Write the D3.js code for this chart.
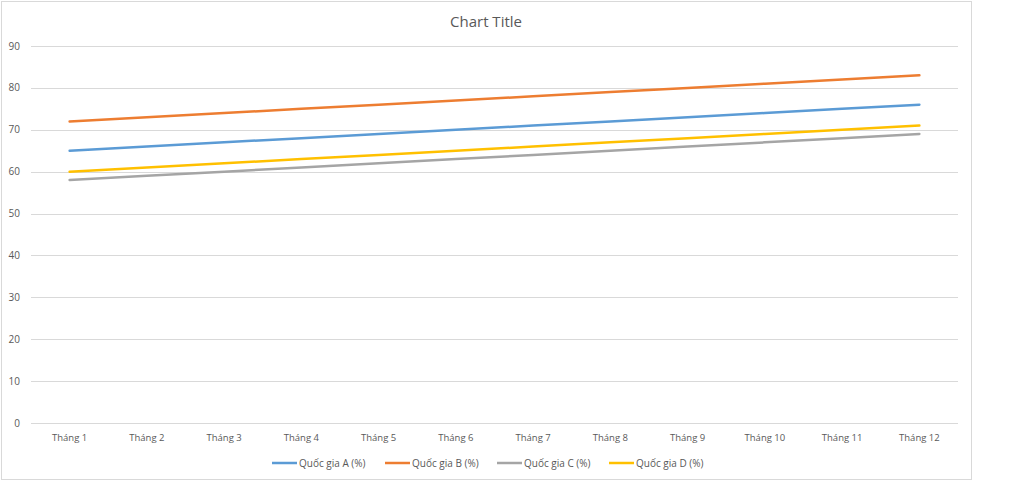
<!DOCTYPE html>
<html>
<head>
<meta charset="utf-8">
<script src="https://cdn.jsdelivr.net/npm/d3@7"></script>
<style>
  body { margin: 0; background: #fff; }
  text { font-family: "Open Sans", "Liberation Sans", sans-serif; }
</style>
</head>
<body>
<script>
// data
var months = ["Tháng 1", "Tháng 2", "Tháng 3", "Tháng 4", "Tháng 5", "Tháng 6",
              "Tháng 7", "Tháng 8", "Tháng 9", "Tháng 10", "Tháng 11", "Tháng 12"];
var seriesNames = ["Quốc gia A (%)", "Quốc gia B (%)", "Quốc gia C (%)", "Quốc gia D (%)"];
var quocGiaA = [65, 66, 67, 68, 69, 70, 71, 72, 73, 74, 75, 76];
var quocGiaB = [72, 73, 74, 75, 76, 77, 78, 79, 80, 81, 82, 83];
var quocGiaC = [58, 59, 60, 61, 62, 63, 64, 65, 66, 67, 68, 69];
var quocGiaD = [60, 61, 62, 63, 64, 65, 66, 67, 68, 69, 70, 71];
var yTicks = [0, 10, 20, 30, 40, 50, 60, 70, 80, 90];

var colors = ["#5B9BD5", "#ED7D31", "#A5A5A5", "#FFC000"];
var allSeries = [quocGiaA, quocGiaB, quocGiaC, quocGiaD];

var width = 1024,
    height = 488;

var svg = d3.select("body").append("svg")
    .attr("width", width)
    .attr("height", height);

// chart frame
svg.append("rect")
    .attr("x", 1.5).attr("y", 1.5)
    .attr("width", 970).attr("height", 478)
    .attr("fill", "#fff")
    .attr("stroke", "#d9d9d9");

svg.append("text")
    .attr("x", 486).attr("y", 27)
    .attr("text-anchor", "middle")
    .attr("font-size", "15px")
    .attr("fill", "#595959")
    .text("Chart Title");

var x = d3.scaleBand()
    .domain(months)
    .range([31, 958]);

var y = d3.scaleLinear()
    .domain([0, 90])
    .range([423, 46]);

// gridlines
svg.append("g").selectAll("line")
    .data(yTicks)
    .enter().append("line")
    .attr("x1", 31).attr("x2", 958)
    .attr("y1", function (d) { return Math.round(y(d)) + 0.5; })
    .attr("y2", function (d) { return Math.round(y(d)) + 0.5; })
    .attr("stroke", "#d9d9d9")
    .attr("stroke-width", 1);

// y labels
svg.append("g").selectAll("text")
    .data(yTicks)
    .enter().append("text")
    .attr("x", 20)
    .attr("y", function (d) { return y(d) + 3.5; })
    .attr("text-anchor", "end")
    .attr("font-size", "10px")
    .attr("fill", "#595959")
    .text(function (d) { return d; });

// x labels
svg.append("g").selectAll("text")
    .data(months)
    .enter().append("text")
    .attr("x", function (d) { return x(d) + x.bandwidth() / 2; })
    .attr("y", 441)
    .attr("text-anchor", "middle")
    .attr("font-size", "9.5px")
    .attr("fill", "#595959")
    .text(function (d) { return d; });

var line = d3.line()
    .x(function (d, i) { return x(months[i]) + x.bandwidth() / 2; })
    .y(function (d) { return y(d); });

svg.append("g").selectAll("path")
    .data(allSeries)
    .enter().append("path")
    .attr("d", line)
    .attr("fill", "none")
    .attr("stroke", function (d, i) { return colors[i]; })
    .attr("stroke-width", 2.5)
    .attr("stroke-linecap", "round");

// legend
var legendX = [272, 385, 497, 609];
var legend = svg.append("g").selectAll("g")
    .data(seriesNames)
    .enter().append("g")
    .attr("transform", function (d, i) { return "translate(" + legendX[i] + ",463)"; });

legend.append("line")
    .attr("x1", 0).attr("x2", 25)
    .attr("stroke", function (d, i) { return colors[i]; })
    .attr("stroke-width", 2.5);

legend.append("text")
    .attr("x", 27).attr("y", 3.5)
    .attr("font-size", "10px")
    .attr("fill", "#595959")
    .text(function (d) { return d; });
</script>
</body>
</html>
